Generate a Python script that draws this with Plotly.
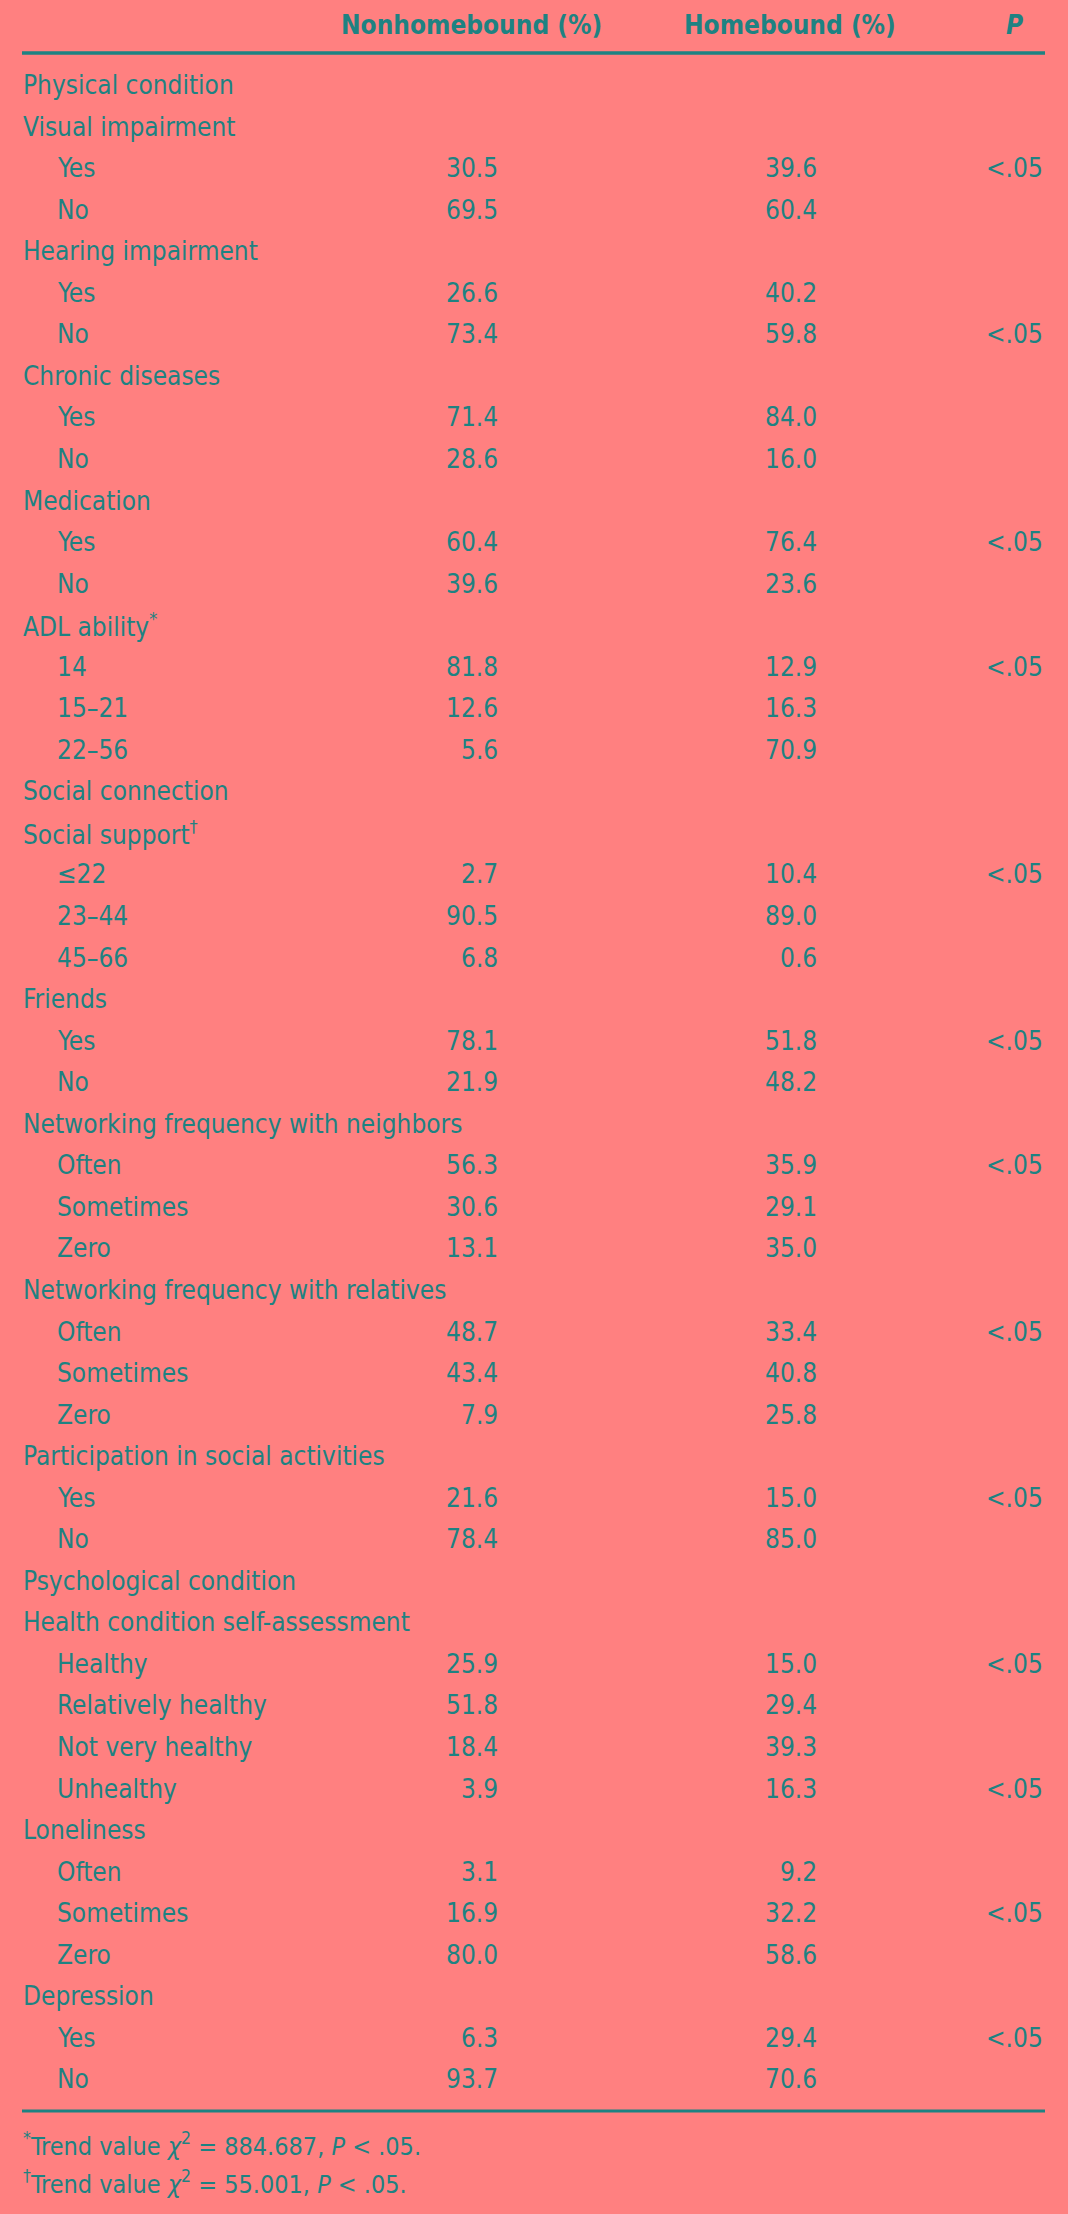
import plotly.graph_objects as go

# ---------------- data ----------------
labels = [
    "Physical condition", "Visual impairment", "Yes", "No",
    "Hearing impairment", "Yes", "No",
    "Chronic diseases", "Yes", "No",
    "Medication", "Yes", "No",
    "ADL ability<sup>*</sup>", "14", "15–21", "22–56",
    "Social connection", "Social support<sup>†</sup>", "≤22", "23–44", "45–66",
    "Friends", "Yes", "No",
    "Networking frequency with neighbors", "Often", "Sometimes", "Zero",
    "Networking frequency with relatives", "Often", "Sometimes", "Zero",
    "Participation in social activities", "Yes", "No",
    "Psychological condition", "Health condition self-assessment",
    "Healthy", "Relatively healthy", "Not very healthy", "Unhealthy",
    "Loneliness", "Often", "Sometimes", "Zero",
    "Depression", "Yes", "No",
]
nonhomebound = [
    None, None, 30.5, 69.5,
    None, 26.6, 73.4,
    None, 71.4, 28.6,
    None, 60.4, 39.6,
    None, 81.8, 12.6, 5.6,
    None, None, 2.7, 90.5, 6.8,
    None, 78.1, 21.9,
    None, 56.3, 30.6, 13.1,
    None, 48.7, 43.4, 7.9,
    None, 21.6, 78.4,
    None, None, 25.9, 51.8, 18.4, 3.9,
    None, 3.1, 16.9, 80.0,
    None, 6.3, 93.7,
]
homebound = [
    None, None, 39.6, 60.4,
    None, 40.2, 59.8,
    None, 84.0, 16.0,
    None, 76.4, 23.6,
    None, 12.9, 16.3, 70.9,
    None, None, 10.4, 89.0, 0.6,
    None, 51.8, 48.2,
    None, 35.9, 29.1, 35.0,
    None, 33.4, 40.8, 25.8,
    None, 15.0, 85.0,
    None, None, 15.0, 29.4, 39.3, 16.3,
    None, 9.2, 32.2, 58.6,
    None, 29.4, 70.6,
]
p_values = [
    "", "", "<.05", "",
    "", "", "<.05",
    "", "", "",
    "", "<.05", "",
    "", "<.05", "", "",
    "", "", "<.05", "", "",
    "", "<.05", "",
    "", "<.05", "", "",
    "", "<.05", "", "",
    "", "<.05", "",
    "", "", "<.05", "", "", "<.05",
    "", "", "<.05", "",
    "", "<.05", "",
]
headers = ["Nonhomebound (%)", "Homebound (%)", "P"]
footnotes = [
    "<sup>*</sup>Trend value <i>χ</i><sup>2</sup> = 884.687, <i>P</i> &lt; .05.",
    "<sup>†</sup>Trend value <i>χ</i><sup>2</sup> = 55.001, <i>P</i> &lt; .05.",
]

# ---------------- layout / style ----------------
W, H = 1068, 2214
BG = "#FF8080"
FG = "#1E8282"
FONT = "DejaVu Sans Condensed, Liberation Sans Narrow, sans-serif"
FS = 26
FS_FOOT = 25
ROW0, ROWH = 85.0, 41.55
X_LABEL, X_INDENT = 22, 56
X_COL1, X_COL2, X_P = 499, 818, 1044
HEADER_Y = 25
HEADER_X = [471, 790, 1014]
RULE_TOP, RULE_BOT = 53, 2111
RULE_X0, RULE_X1 = 22, 1045
FOOT_Y = [2144, 2182]

def esc(s):
    return s.replace("<.", "&lt;.")

ann = []
for i, lab in enumerate(labels):
    y = ROW0 + i * ROWH
    has_val = nonhomebound[i] is not None
    ann.append(dict(x=X_INDENT if has_val else X_LABEL, y=y, text=lab,
                    xanchor="left", yanchor="middle", showarrow=False))
    if has_val:
        ann.append(dict(x=X_COL1, y=y, text=f"{nonhomebound[i]:.1f}",
                        xanchor="right", yanchor="middle", showarrow=False))
        ann.append(dict(x=X_COL2, y=y, text=f"{homebound[i]:.1f}",
                        xanchor="right", yanchor="middle", showarrow=False))
    if p_values[i]:
        ann.append(dict(x=X_P, y=y, text=esc(p_values[i]),
                        xanchor="right", yanchor="middle", showarrow=False))

for hx, h in zip(HEADER_X, headers):
    t = f"<b><i>{h}</i></b>" if h == "P" else f"<b>{h}</b>"
    ann.append(dict(x=hx, y=HEADER_Y, text=t, xanchor="center",
                    yanchor="middle", showarrow=False))

for fy, f in zip(FOOT_Y, footnotes):
    ann.append(dict(x=X_LABEL, y=fy, text=f, xanchor="left", yanchor="middle",
                    showarrow=False, font=dict(size=FS_FOOT)))

for a in ann:
    size = a.get("font", {}).get("size", FS)
    a["font"] = dict(family=FONT, color=FG, size=size)
    a["xref"] = "x"
    a["yref"] = "y"
    a["borderpad"] = 0

shapes = [
    dict(type="line", xref="x", yref="y", x0=RULE_X0, x1=RULE_X1,
         y0=RULE_TOP, y1=RULE_TOP, line=dict(color=FG, width=3.5)),
    dict(type="line", xref="x", yref="y", x0=RULE_X0, x1=RULE_X1,
         y0=RULE_BOT, y1=RULE_BOT, line=dict(color=FG, width=3)),
]

fig = go.Figure()
fig.add_trace(go.Scatter(x=[0, W], y=[0, H], mode="markers",
                         marker=dict(opacity=0), hoverinfo="skip",
                         showlegend=False))
fig.update_layout(
    width=W, height=H, margin=dict(l=0, r=0, t=0, b=0),
    paper_bgcolor=BG, plot_bgcolor=BG,
    xaxis=dict(range=[0, W], visible=False, fixedrange=True),
    yaxis=dict(range=[H, 0], visible=False, fixedrange=True),
    annotations=ann, shapes=shapes, showlegend=False,
)
fig.write_html(
    "out.html",
    config={"displayModeBar": False, "staticPlot": True},
    post_script="document.body.style.margin='0';"
                "document.body.style.background='" + BG + "';",
)
